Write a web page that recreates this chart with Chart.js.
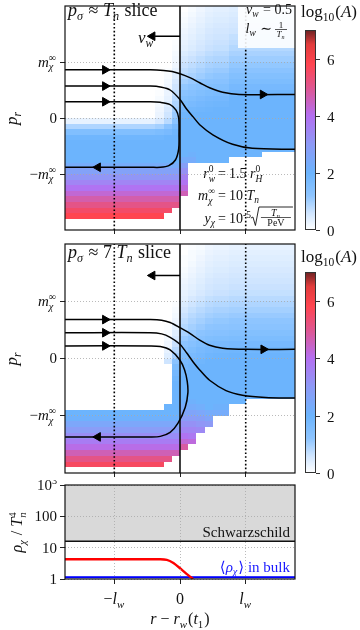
<!DOCTYPE html>
<html>
<head>
<meta charset="utf-8">
<title>Phase space slices near the wall</title>
<script src="https://cdn.jsdelivr.net/npm/chart.js@4.4.1/dist/chart.umd.min.js"></script>
<style>
  html, body { margin: 0; padding: 0; background: #ffffff; }
  #figure { position: relative; width: 360px; height: 630px; overflow: hidden; }
  #figure canvas { position: absolute; left: 0; display: block; }
</style>
</head>
<body>
<div id="figure">
  <canvas id="slice1" width="360" height="236" style="top:0px"></canvas>
  <canvas id="slice2" width="360" height="244" style="top:236px"></canvas>
  <canvas id="density" width="360" height="150" style="top:480px"></canvas>
</div>
<script>
/* =========================
   DATA
========================= */

const _ = null;

// x in units of l_w, p_r in units of m_chi^inf
const xTicks = [-1, 0, 1];
const pTicks = [-1, 0, 1];
const rhoTicks = [1, 10, 100, 1000];
const cbarTicks = [0, 2, 4, 6];

// heat map cells: column edges (l_w), 40 rows of 0.1 m_chi from p_r = +2 down to -2
const cellEdgesX = [-1.75, -0.5, -0.375, -0.25, -0.125, 0, 0.125, 0.25, 0.375, 0.5, 0.75, 1, 1.25, 1.5, 1.75];
const rowTop = 2;
const rowStep = 0.1;

// log10(A), one array per column, top row first (null = no data)
const slice1Cells = [
  [0,0,0,0,0,0,0,0,0,0, 0,0,0,0,0,0,0,0,0,0, 0.3,0.9,1.5,1.9,2,2,2,2,2.3,2.7, 3.1,3.5,3.9,4.3,4.7,5.1,5.5,5.8,_,_],
  [0,0,0,0,0,0,0,0,0,0, 0,0,0,0,0,0,0,0,0,0, 0.3,0.9,1.5,1.9,2,2,2,2,2.3,2.7, 3.1,3.5,3.9,4.3,4.7,5.1,5.5,5.8,_,_],
  [0,0,0,0,0,0,0,0,0,0, 0,0,0,0,0,0.05,0.1,0.15,0.2,0.25, 0.5,1.0,1.6,1.9,2,2,2,2,2.3,2.7, 3.1,3.5,3.9,4.3,4.7,5.1,5.5,5.8,_,_],
  [0,0,0,0,0,0,0,0,0,0, 0,0.05,0.1,0.15,0.2,0.25,0.3,0.4,0.5,0.6, 0.8,1.3,1.7,2,2,2,2,2,2.3,2.7, 3.1,3.5,3.9,4.3,4.7,5.1,5.5,_,_,_],
  [0,0,0,0,0,0,0.05,0.08,0.12,0.16, 0.2,0.3,0.4,0.5,0.6,0.7,0.8,0.9,1.0,1.1, 1.3,1.7,1.9,2,2,2,2,2,2.3,2.7, 3.1,3.5,3.9,4.3,4.7,5.1,_,_,_,_],
  [0,0.05,0.1,0.15,0.2,0.25,0.3,0.35,0.45,0.55, 0.65,0.75,0.85,1.0,1.15,1.3,1.45,1.6,1.75,1.9, 2,2,2,2,2,2,2,2.3,2.8,3.2, 3.6,3.9,4.2,4.6,_,_,_,_,_,_],
  [0.1,0.15,0.2,0.25,0.3,0.35,0.4,0.45,0.55,0.65, 0.75,0.85,0.95,1.1,1.25,1.4,1.55,1.7,1.85,1.95, 2,2,2,2,2,2,2.1,2.3,_,_, _,_,_,_,_,_,_,_,_,_],
  [0.2,0.25,0.3,0.35,0.4,0.45,0.5,0.55,0.65,0.75, 0.85,0.95,1.05,1.2,1.35,1.5,1.65,1.8,1.9,2, 2,2,2,2,2,2,2,2,_,_, _,_,_,_,_,_,_,_,_,_],
  [0.3,0.35,0.4,0.45,0.5,0.55,0.6,0.65,0.75,0.85, 0.95,1.05,1.15,1.3,1.45,1.6,1.75,1.85,1.95,2, 2,2,2,2,2,2,2,2,_,_, _,_,_,_,_,_,_,_,_,_],
  [0.35,0.4,0.45,0.5,0.55,0.6,0.65,0.7,0.8,0.9, 1.0,1.1,1.2,1.35,1.5,1.65,1.8,1.9,2,2, 2,2,2,2,2,2,2,2,_,_, _,_,_,_,_,_,_,_,_,_],
  [0.4,0.45,0.5,0.55,0.6,0.7,0.75,0.85,0.95,1.05, 1.15,1.3,1.45,1.6,1.75,1.9,2,2,2,2, 2,2,2,2,2,2,2,_,_,_, _,_,_,_,_,_,_,_,_,_],
  [0.4,0.45,0.5,0.55,0.6,0.7,0.75,0.85,0.95,1.05, 1.15,1.3,1.45,1.6,1.75,1.9,2,2,2,2, 2,2,2,2,2,2,2,_,_,_, _,_,_,_,_,_,_,_,_,_],
  [0.4,0.45,0.5,0.55,0.6,0.7,0.75,0.85,0.95,1.05, 1.15,1.3,1.45,1.6,1.75,1.9,2,2,2,2, 2,2,2,2,2,2,_,_,_,_, _,_,_,_,_,_,_,_,_,_],
  [0.4,0.45,0.5,0.55,0.6,0.7,0.75,0.85,0.95,1.05, 1.15,1.3,1.45,1.6,1.75,1.9,2,2,2,2, 2,2,2,2,2,2,_,_,_,_, _,_,_,_,_,_,_,_,_,_]
];

const slice2Cells = [
  [0,0,0,0,0,0,0,0,0,0, 0,0,0,0,0,0,0,0,0,0, _,_,_,_,_,_,_,_,_,2.0, 2.1,2.5,2.9,3.3,3.7,4.1,4.6,5.1,5.6,_],
  [0,0,0,0,0,0,0,0,0,0, 0,0,0,0,0,0,0,0,0,0, _,_,_,_,_,_,_,_,_,2.0, 2.1,2.5,2.9,3.3,3.7,4.1,4.6,5.1,5.6,_],
  [0,0,0,0,0,0,0,0,0,0, 0,0,0,0,0,0,0,0,0,0, _,_,_,_,_,_,_,_,_,2.0, 2.1,2.5,2.9,3.3,3.7,4.1,4.6,5.1,5.6,_],
  [0,0,0,0,0,0,0,0,0,0, 0,0,0,0,0.05,0.1,0.15,0.2,0.3,0.4, 0.6,_,_,_,_,_,_,_,2,2.0, 2.1,2.5,2.9,3.3,3.7,4.1,4.6,5.1,_,_],
  [0,0,0,0,0,0,0,0,0,0, 0.05,0.1,0.15,0.2,0.3,0.4,0.5,0.65,0.8,1.0, 1.3,1.6,1.8,1.9,2,2,2,2,2,2, 2.1,2.5,2.9,3.3,3.7,4.1,4.6,_,_,_],
  [0,0,0.05,0.05,0.1,0.15,0.2,0.25,0.3,0.35, 0.45,0.55,0.65,0.75,0.85,0.95,1.1,1.25,1.4,1.55, 1.7,1.8,1.9,2,2,2,2,2.1,2.3,2.6, 2.9,3.2,3.5,3.9,4.3,4.8,_,_,_,_],
  [0.05,0.1,0.1,0.15,0.2,0.25,0.3,0.35,0.4,0.5, 0.6,0.7,0.8,0.9,1.0,1.1,1.25,1.4,1.55,1.7, 1.8,1.9,2,2,2,2,2,2.1,2.3,2.6, 2.9,3.2,3.5,3.8,4.2,_,_,_,_,_],
  [0.1,0.15,0.2,0.25,0.3,0.35,0.4,0.45,0.5,0.6, 0.7,0.8,0.9,1.0,1.1,1.25,1.4,1.55,1.7,1.8, 1.9,2,2,2,2,2,2,2,2.2,2.5, 2.8,3.1,3.4,_,_,_,_,_,_,_],
  [0.2,0.25,0.3,0.35,0.4,0.45,0.5,0.55,0.6,0.7, 0.8,0.9,1.0,1.1,1.2,1.35,1.5,1.65,1.8,1.9, 2,2,2,2,2,2,2,2,2,2.3, 2.6,3.0,_,_,_,_,_,_,_,_],
  [0.25,0.3,0.35,0.4,0.45,0.5,0.55,0.6,0.65,0.75, 0.85,0.95,1.05,1.15,1.25,1.4,1.55,1.7,1.85,1.95, 2,2,2,2,2,2,2,2,2.1,2.3, _,_,_,_,_,_,_,_,_,_],
  [0.3,0.35,0.4,0.45,0.5,0.55,0.6,0.65,0.7,0.8, 0.9,1.0,1.1,1.2,1.3,1.45,1.6,1.75,1.9,2, 2,2,2,2,2,2,2,2,_,_, _,_,_,_,_,_,_,_,_,_],
  [0.3,0.35,0.4,0.45,0.5,0.55,0.6,0.65,0.7,0.8, 0.9,1.0,1.1,1.2,1.3,1.45,1.6,1.75,1.9,2, 2,2,2,2,2,2,2,_,_,_, _,_,_,_,_,_,_,_,_,_],
  [0.3,0.35,0.4,0.45,0.5,0.55,0.6,0.65,0.7,0.8, 0.9,1.0,1.1,1.2,1.3,1.45,1.6,1.75,1.9,2, 2,2,2,2,2,2,2,_,_,_, _,_,_,_,_,_,_,_,_,_],
  [0.3,0.35,0.4,0.45,0.5,0.55,0.6,0.65,0.7,0.8, 0.9,1.0,1.1,1.2,1.3,1.45,1.6,1.75,1.9,2, 2,2,2,2,2,2,2,_,_,_, _,_,_,_,_,_,_,_,_,_]
];

// particle trajectories [x, p_r]
const slice1Paths = [
  [[-1.75,0.86],[-0.45,0.86],[-0.25,0.85],[-0.12,0.83],[0,0.79],[0.15,0.72],[0.3,0.63],[0.45,0.54],[0.65,0.46],[0.9,0.42],[1.75,0.42]],
  [[-1.75,0.57],[-0.45,0.57],[-0.28,0.55],[-0.15,0.5],[0,0.33],[0.1,0.16],[0.2,0.02],[0.3,-0.12],[0.5,-0.3],[0.8,-0.47],[1.1,-0.54],[1.75,-0.56]],
  [[-1.75,0.29],[-0.45,0.29],[-0.3,0.28],[-0.15,0.24],[-0.06,0.14],[-0.02,0],[-0.015,-0.3],[-0.02,-0.55],[-0.07,-0.75],[-0.17,-0.85],[-0.3,-0.88],[-0.45,-0.88],[-1.75,-0.88]]
];
const slice1ArrowsRight = [[-1.14,0.86],[-1.14,0.57],[-1.14,0.29],[1.26,0.42]];
const slice1ArrowsLeft = [[-1.25,-0.88],[-0.42,1.46]];
const slice1WallArrow = [[0,1.46],[-0.38,1.46]];

const slice2Paths = [
  [[-1.75,0.68],[-0.45,0.68],[-0.28,0.67],[-0.15,0.63],[0,0.54],[0.15,0.44],[0.3,0.32],[0.45,0.23],[0.65,0.18],[1.0,0.16],[1.75,0.16]],
  [[-1.75,0.45],[-0.45,0.45],[-0.28,0.43],[-0.15,0.37],[0,0.25],[0.1,0.1],[0.2,-0.06],[0.3,-0.2],[0.45,-0.38],[0.7,-0.56],[0.95,-0.64],[1.3,-0.68],[1.75,-0.69]],
  [[-1.75,0.22],[-0.45,0.22],[-0.3,0.21],[-0.15,0.15],[0,-0.03],[0.07,-0.2],[0.11,-0.4],[0.12,-0.6],[0.08,-0.85],[-0.03,-1.13],[-0.15,-1.29],[-0.3,-1.36],[-0.45,-1.37],[-1.75,-1.37]]
];
const slice2ArrowsRight = [[-1.14,0.68],[-1.14,0.45],[-1.14,0.22],[1.27,0.16]];
const slice2ArrowsLeft = [[-1.25,-1.37],[-0.42,1.45]];
const slice2WallArrow = [[0,1.45],[-0.38,1.45]];

const wallX = [0];
const lwMarks = [-1, 1];

// bottom panel: rho_chi / T_n^4
const rhoWall = [[-1.75,4.26],[-0.3,4.26],[-0.2,4.1],[-0.1,3.25],[0.03,1.95],[0.12,1.35],[0.2,1.0]];
const rhoBulk = 1.13;
const rhoSchwarzschild = 16;

// colour map for log10(A)
const cmapStops = [0, 0.6, 1.2, 2, 3, 4, 5, 5.8, 6.5, 7];
const cmapColors = ["#ffffff", "#cfe5ff", "#8ec5ff", "#6cb4fd", "#8d9af6", "#b46ff1", "#e0568f", "#ff4550", "#e23c3c", "#6b2222"];

/* =========================
   TEXT HELPERS
========================= */

const SERIF = '"Liberation Serif", "DejaVu Serif", serif';

function fontOf(size, italic){
    return (italic ? "italic " : "") + size + "px " + SERIF;
}

// segments: [text, mode]  r roman, i italic, bi/br subscript, pi/pr superscript, S stacked [sub, sup]
function drawRich(ctx, segs, x, y, size, align){

    const small = size * 0.68;
    const items = [];
    let w = 0;

    segs.forEach(([txt, mode]) => {
        if(mode === "S"){
            ctx.font = fontOf(small, true);
            const wb = ctx.measureText(txt[0]).width;
            ctx.font = fontOf(small, false);
            const wp = ctx.measureText(txt[1]).width;
            items.push({ stack: true, txt, x: w });
            w += Math.max(wb, wp) + 1;
        }else{
            const sub = mode[0] === "b";
            const sup = mode[0] === "p";
            const it = mode[mode.length - 1] === "i";
            const sz = (sub || sup) ? small : size;
            ctx.font = fontOf(sz, it);
            const tw = ctx.measureText(txt).width;
            items.push({ txt, x: w, sz, it, dy: sub ? size * 0.22 : (sup ? -size * 0.38 : 0) });
            w += tw + (sub ? 1 : 0);
        }
    });

    const x0 = align === "right" ? x - w : (align === "center" ? x - w / 2 : x);
    ctx.textAlign = "left";
    ctx.textBaseline = "alphabetic";

    items.forEach(it => {
        if(it.stack){
            ctx.font = fontOf(small, true);
            ctx.fillText(it.txt[0], x0 + it.x, y + size * 0.25);
            ctx.font = fontOf(small, false);
            ctx.fillText(it.txt[1], x0 + it.x, y - size * 0.4);
        }else{
            ctx.font = fontOf(it.sz, it.it);
            ctx.fillText(it.txt, x0 + it.x, y + it.dy);
        }
    });

    return w;
}

function fraction(ctx, cx, barY, num, den, size, halfW){
    drawRich(ctx, num, cx, barY - 2, size, "center");
    drawRich(ctx, den, cx, barY + size * 0.85, size, "center");
    ctx.beginPath();
    ctx.moveTo(cx - halfW, barY);
    ctx.lineTo(cx + halfW, barY);
    ctx.lineWidth = 0.7;
    ctx.stroke();
}

const mLabel = [["m", "i"], [["χ", "∞"], "S"]];
const pTickLabels = [
    [["−", "r"], ["m", "i"], [["χ", "∞"], "S"]],
    [["0", "r"]],
    mLabel
];
const xTickLabels = [
    [["−", "r"], ["l", "i"], ["w", "bi"]],
    [["0", "r"]],
    [["l", "i"], ["w", "bi"]]
];
const cbarLabel = [["log", "r"], ["10", "br"], ["(", "r"], ["A", "i"], [")", "r"]];

/* =========================
   COLOUR MAP
========================= */

function hexRgb(h){
    return [1, 3, 5].map(k => parseInt(h.slice(k, k + 2), 16));
}

function cmap(v){
    v = Math.max(0, Math.min(7, v));
    let k = 0;
    while(k < cmapStops.length - 2 && v > cmapStops[k + 1]) k++;
    const t = (v - cmapStops[k]) / (cmapStops[k + 1] - cmapStops[k]);
    const a = hexRgb(cmapColors[k]);
    const b = hexRgb(cmapColors[k + 1]);
    const c = a.map((q, i) => Math.round(q + (b[i] - q) * t));
    return "rgb(" + c.join(",") + ")";
}

/* =========================
   SLICE PANELS
========================= */

function lineSet(points, style){
    return Object.assign({
        data: points.map(([x, y]) => ({ x, y })),
        pointRadius: 0,
        borderWidth: 1.5,
        borderColor: "#000",
        fill: false,
        tension: 0
    }, style);
}

function arrowSet(points, rot){
    return {
        data: points.map(([x, y]) => ({ x, y })),
        showLine: false,
        pointStyle: "triangle",
        rotation: rot,
        pointRadius: 5,
        backgroundColor: "#000",
        borderColor: "#000",
        borderWidth: 1
    };
}

function drawColorbar(ctx, cb){

    const x0 = 305, x1 = 316;
    const span = cb.bottom - cb.top;

    for(let py = cb.top; py < cb.bottom; py++){
        ctx.fillStyle = cmap(7 * (cb.bottom - py - 0.5) / span);
        ctx.fillRect(x0, py, x1 - x0, 1);
    }

    ctx.strokeStyle = "#333";
    ctx.lineWidth = 1;
    ctx.strokeRect(x0 + 0.5, cb.top + 0.5, x1 - x0 - 1, span - 1);

    ctx.fillStyle = "#111";
    cbarTicks.forEach(v => {
        const ty = Math.round(cb.bottom - span * v / 7) + 0.5;
        ctx.beginPath();
        ctx.moveTo(x1, ty);
        ctx.lineTo(x1 + 4, ty);
        ctx.stroke();
        drawRich(ctx, [[String(v), "r"]], x1 + 11, ty + 5, 15, "left");
    });

    drawRich(ctx, cbarLabel, 301, cb.labelBase, 17, "left");
}

function drawSlice1Notes(ctx, a){

    ctx.fillStyle = "#111";
    drawRich(ctx, [["v", "i"], ["w", "bi"]], 146, 43, 17, "center");

    // parameter box, top right
    ctx.fillStyle = "rgba(255,255,255,0.88)";
    ctx.fillRect(238, a.top, a.right - 238, 42);
    ctx.fillStyle = "#111";
    ctx.strokeStyle = "#111";
    drawRich(ctx, [["v", "i"], ["w", "bi"], [" = 0.5", "r"]], 292, 14, 14, "right");
    drawRich(ctx, [["l", "i"], ["w", "bi"], [" ∼", "r"]], 272, 33, 14, "right");
    fraction(ctx, 281, 29.5, [["1", "r"]], [["T", "i"], ["n", "bi"]], 9, 6);

    // lower right block, aligned on "="
    const eqX = 222;
    const rows = [
        [178, [["r", "i"], [["w", "0"], "S"]], [["1.5 ", "r"], ["r", "i"], [["H", "0"], "S"]]],
        [200, mLabel, [["10 ", "r"], ["T", "i"], ["n", "bi"]]],
        [223, [["y", "i"], ["χ", "bi"]], [["10", "r"], ["-5", "pr"]]]
    ];

    let sx = 0;
    rows.forEach(([b, lhs, rhs]) => {
        drawRich(ctx, lhs, eqX - 6, b, 14, "right");
        drawRich(ctx, [["=", "r"]], eqX, b, 14, "center");
        sx = eqX + 7 + drawRich(ctx, rhs, eqX + 7, b, 14, "left");
    });

    // square root of T_n / PeV
    const b = 223;
    ctx.lineWidth = 0.9;
    ctx.beginPath();
    ctx.moveTo(sx, b - 5);
    ctx.lineTo(sx + 2, b - 6);
    ctx.lineTo(sx + 4.5, b + 2.5);
    ctx.lineTo(sx + 8, b - 16);
    ctx.lineTo(sx + 42, b - 16);
    ctx.stroke();
    fraction(ctx, sx + 25, b - 5.5, [["T", "i"], ["n", "bi"]], [["PeV", "r"]], 10, 15);
}

function sliceChart(cfg){

    const canvas = document.getElementById(cfg.id);
    const H = canvas.height;

    const datasets = [];

    datasets.push(arrowSet(cfg.arrowsRight, 90));
    datasets.push(arrowSet(cfg.arrowsLeft, -90));

    cfg.paths.forEach(path => {
        datasets.push(lineSet(path, { borderWidth: 1.5, tension: 0.3 }));
    });

    datasets.push(lineSet(cfg.wallArrow, { borderWidth: 1.5 }));

    wallX.forEach(v => {
        datasets.push(lineSet([[v, -2], [v, 2]], { borderWidth: 1.6, borderColor: "#111" }));
    });

    lwMarks.forEach(v => {
        datasets.push(lineSet([[v, -2], [v, 2]], { borderWidth: 1.6, borderDash: [1.6, 2.2] }));
    });

    const heatPlugin = {
        id: "heat-" + cfg.id,
        beforeDraw(chart){
            const { ctx, scales: { x, y } } = chart;
            ctx.save();
            cfg.cells.forEach((col, i) => {
                const xa = Math.round(x.getPixelForValue(cellEdgesX[i]));
                const xb = Math.round(x.getPixelForValue(cellEdgesX[i + 1]));
                col.forEach((v, j) => {
                    if(v === null) return;
                    const ya = Math.round(y.getPixelForValue(rowTop - j * rowStep));
                    const yb = Math.round(y.getPixelForValue(rowTop - (j + 1) * rowStep));
                    ctx.fillStyle = cmap(v);
                    ctx.fillRect(xa, ya, xb - xa, yb - ya);
                });
            });
            ctx.restore();
        },
        afterDraw(chart){
            const { ctx, chartArea: a, scales: { y } } = chart;
            ctx.save();
            ctx.fillStyle = "#111";
            ctx.strokeStyle = "#111";

            pTicks.forEach((v, k) => {
                drawRich(ctx, pTickLabels[k], 57, y.getPixelForValue(v) + 4.5, 15, "right");
            });

            ctx.save();
            ctx.translate(17, (a.top + a.bottom) / 2);
            ctx.rotate(-Math.PI / 2);
            drawRich(ctx, [["p", "i"], ["r", "bi"]], 0, 0, 17, "center");
            ctx.restore();

            drawRich(ctx, cfg.title, a.left + 3, cfg.titleBase, 18, "left");

            if(cfg.notes) cfg.notes(ctx, a);

            drawColorbar(ctx, cfg.cbar);

            ctx.strokeStyle = "#111";
            ctx.lineWidth = 1.2;
            ctx.strokeRect(a.left, a.top, a.right - a.left, a.bottom - a.top);
            ctx.restore();
        }
    };

    return new Chart(canvas, {
        type: "line",
        data: { datasets },
        options: {
            responsive: false,
            animation: false,
            devicePixelRatio: 1,
            layout: { padding: { top: cfg.top, right: 65, left: 0, bottom: 0 } },
            plugins: { legend: { display: false }, tooltip: { enabled: false } },
            scales: {
                x: {
                    type: "linear",
                    min: -1.75,
                    max: 1.75,
                    afterBuildTicks: s => { s.ticks = xTicks.map(v => ({ value: v })); },
                    afterFit: s => { s.height = H - cfg.bottom; },
                    ticks: { display: false },
                    grid: { drawOnChartArea: false, tickLength: 4, tickColor: "#222", tickWidth: 1 },
                    border: { display: false }
                },
                y: {
                    type: "linear",
                    min: -2,
                    max: 2,
                    afterBuildTicks: s => { s.ticks = pTicks.map(v => ({ value: v })); },
                    afterFit: s => { s.width = 65; },
                    ticks: { display: false },
                    grid: { color: "#a8a8a8", lineWidth: 0.8, tickLength: 5, tickColor: "#222", tickWidth: 1 },
                    border: { display: false, dash: [1, 2] }
                }
            }
        },
        plugins: [heatPlugin]
    });
}

sliceChart({
    id: "slice1",
    top: 0,
    bottom: 231,
    cells: slice1Cells,
    paths: slice1Paths,
    arrowsRight: slice1ArrowsRight,
    arrowsLeft: slice1ArrowsLeft,
    wallArrow: slice1WallArrow,
    title: [["p", "i"], ["σ", "bi"], [" ≈ ", "r"], ["T", "i"], ["n", "bi"], [" slice", "r"]],
    titleBase: 16,
    cbar: { top: 30, bottom: 230, labelBase: 17 },
    notes: drawSlice1Notes
});

sliceChart({
    id: "slice2",
    top: 8,
    bottom: 237,
    cells: slice2Cells,
    paths: slice2Paths,
    arrowsRight: slice2ArrowsRight,
    arrowsLeft: slice2ArrowsLeft,
    wallArrow: slice2WallArrow,
    title: [["p", "i"], ["σ", "bi"], [" ≈ 7 ", "r"], ["T", "i"], ["n", "bi"], [" slice", "r"]],
    titleBase: 22,
    cbar: { top: 36, bottom: 237, labelBase: 26 },
    notes: null
});

/* =========================
   DENSITY PANEL
========================= */

(function densityChart(){

    const canvas = document.getElementById("density");
    const H = canvas.height;
    const bottom = 99;

    const textPlugin = {
        id: "density-text",
        afterDraw(chart){
            const { ctx, chartArea: a, scales: { x, y } } = chart;
            ctx.save();
            ctx.fillStyle = "#111";

            rhoTicks.forEach(v => {
                const ty = y.getPixelForValue(v) + 5;
                const lab = v === 1000 ? [["10", "r"], ["3", "pr"]] : [[String(v), "r"]];
                drawRich(ctx, lab, 57, ty, 15, "right");
            });

            xTicks.forEach((v, k) => {
                drawRich(ctx, xTickLabels[k], x.getPixelForValue(v), 124, 16, "center");
            });

            drawRich(ctx, [["r", "i"], [" − ", "r"], ["r", "i"], ["w", "bi"], ["(", "r"], ["t", "i"], ["1", "br"], [")", "r"]],
                (a.left + a.right) / 2, 144, 16, "center");

            ctx.save();
            ctx.translate(22, (a.top + a.bottom) / 2);
            ctx.rotate(-Math.PI / 2);
            drawRich(ctx, [["ρ", "i"], ["χ", "bi"], [" / ", "r"], ["T", "i"], [["n", "4"], "S"]], 0, 0, 16, "center");
            ctx.restore();

            drawRich(ctx, [["Schwarzschild", "r"]], 290, y.getPixelForValue(rhoSchwarzschild) - 4, 15, "right");

            ctx.fillStyle = "#1a1aff";
            drawRich(ctx, [["⟨", "r"], ["ρ", "i"], ["χ", "bi"], ["⟩ in bulk", "r"]], 290, 92, 15, "right");

            ctx.strokeStyle = "#111";
            ctx.lineWidth = 1.2;
            ctx.strokeRect(a.left, a.top, a.right - a.left, a.bottom - a.top);
            ctx.restore();
        }
    };

    new Chart(canvas, {
        type: "line",
        data: {
            datasets: [
                lineSet(rhoWall, { borderColor: "#ff0000", borderWidth: 2.4, cubicInterpolationMode: "monotone" }),
                lineSet([[-1.75, rhoBulk], [1.75, rhoBulk]], { borderColor: "#0000ff", borderWidth: 2 }),
                lineSet([[-1.75, rhoBulk * 1.08], [1.75, rhoBulk * 1.08]], {
                    borderWidth: 0,
                    fill: { value: rhoBulk },
                    backgroundColor: "rgba(90,90,255,0.3)"
                }),
                lineSet([[-1.75, rhoSchwarzschild], [1.75, rhoSchwarzschild]], {
                    borderColor: "#111",
                    borderWidth: 1.3,
                    fill: "end",
                    backgroundColor: "#d9d9d9"
                })
            ]
        },
        options: {
            responsive: false,
            animation: false,
            devicePixelRatio: 1,
            layout: { padding: { top: 5, right: 65, left: 0, bottom: 0 } },
            plugins: { legend: { display: false }, tooltip: { enabled: false } },
            scales: {
                x: {
                    type: "linear",
                    min: -1.75,
                    max: 1.75,
                    afterBuildTicks: s => { s.ticks = xTicks.map(v => ({ value: v })); },
                    afterFit: s => { s.height = H - bottom; },
                    ticks: { display: false },
                    grid: { color: "#a8a8a8", lineWidth: 0.8, tickLength: 5, tickColor: "#222", tickWidth: 1, z: 1 },
                    border: { display: false, dash: [1, 2] }
                },
                y: {
                    type: "logarithmic",
                    min: 1,
                    max: 1000,
                    afterBuildTicks: s => { s.ticks = rhoTicks.map(v => ({ value: v })); },
                    afterFit: s => { s.width = 65; },
                    ticks: { display: false },
                    grid: { color: "#a8a8a8", lineWidth: 0.8, tickLength: 5, tickColor: "#222", tickWidth: 1, z: 1 },
                    border: { display: false, dash: [1, 2] }
                }
            }
        },
        plugins: [textPlugin]
    });

})();
</script>
</body>
</html>
